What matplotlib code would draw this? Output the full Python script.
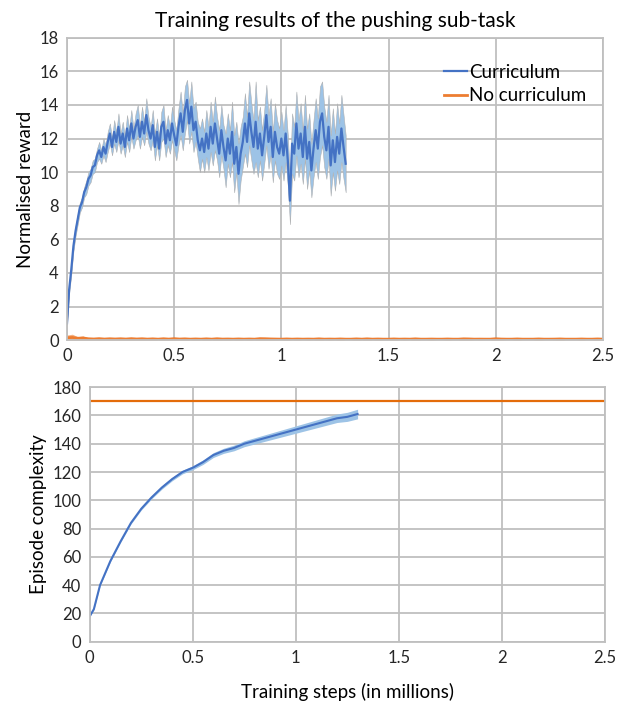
import numpy as np
import matplotlib.pyplot as plt

plt.rcParams['font.family'] = ['Lato', 'DejaVu Sans']

# Belønning, curriculum (steg på 0.01 M)
reward_steps = np.round(np.arange(0, 1.301, 0.01), 2)
reward_mean = [
    1.0, 3.0, 4.2, 5.6, 6.5, 7.2, 7.9, 8.2, 8.8, 9.1,
    9.6, 9.8, 10.3, 10.4, 11.0, 11.3, 10.9, 11.5, 11.1, 11.8,
    12.3, 11.5, 12.4, 11.8, 12.7, 11.7, 12.3, 11.5, 12.6, 11.9,
    12.9, 12.0, 12.7, 13.1, 12.1, 13.0, 12.3, 13.4, 12.5, 12.0,
    12.8, 11.5, 12.4, 11.4, 12.7, 13.0, 11.7, 12.5, 11.9, 12.9,
    12.2, 11.6, 12.7, 13.5, 12.4, 13.7, 14.3, 12.9, 13.9, 12.5,
    13.0, 11.9, 11.3, 12.0, 11.2, 12.3, 11.4, 12.7, 11.7, 12.9,
    12.0, 11.1, 12.5, 11.5, 10.7, 12.0, 11.1, 12.4, 10.5, 11.5,
    9.9, 11.1, 11.8, 12.9, 11.8, 13.5, 12.4, 11.5, 13.0, 11.4,
    12.3, 11.0, 12.1, 13.4, 11.8, 12.7, 10.9, 12.4, 11.5, 11.1,
    12.0, 11.0, 12.3, 10.7, 8.3, 11.7, 11.1, 12.9, 11.4, 12.3,
    10.9, 12.7, 10.8, 11.8, 10.1, 11.4, 12.5, 11.4, 13.0, 13.5,
    12.1, 11.3, 12.7, 10.4, 11.9, 10.6, 12.1, 11.1, 12.6, 11.5,
    10.5,
]
reward_spread = [
    0.1, 0.2, 0.3, 0.3, 0.3, 0.3, 0.3, 0.3, 0.3, 0.4,
    0.4, 0.4, 0.4, 0.4, 0.4, 0.5, 0.4, 0.5, 0.5, 0.6,
    0.6, 0.5, 0.7, 0.6, 0.8, 0.6, 0.7, 0.6, 0.8, 0.7,
    0.8, 0.6, 0.8, 0.9, 0.7, 0.9, 0.7, 1.0, 0.8, 0.7,
    0.9, 0.8, 0.8, 0.7, 0.9, 1.0, 0.8, 0.9, 0.8, 1.0,
    0.9, 0.9, 1.1, 1.3, 1.1, 1.4, 1.2, 1.2, 1.5, 1.3,
    1.2, 1.1, 1.3, 1.2, 1.2, 1.4, 1.3, 1.5, 1.3, 1.6,
    1.3, 1.4, 1.5, 1.3, 1.6, 1.5, 1.4, 1.8, 1.7, 1.5,
    1.8, 1.6, 1.5, 1.8, 1.5, 1.9, 1.7, 1.6, 2.4, 1.7,
    1.6, 1.5, 1.6, 1.8, 1.6, 1.7, 1.5, 1.7, 1.6, 1.5,
    1.6, 1.5, 1.7, 1.5, 1.4, 1.8, 1.6, 1.9, 1.7, 1.8,
    1.6, 1.9, 1.8, 1.7, 1.6, 1.7, 1.9, 1.8, 2.1, 1.9,
    1.8, 1.7, 1.9, 1.8, 1.9, 1.7, 2.0, 1.8, 2.0, 1.9,
    1.7,
]

# Belønning, uten curriculum (steg på 0.025 M)
nocur_steps = np.round(np.arange(0, 2.501, 0.025), 3)
nocur_reward = [
    0.3, 0.35, 0.2, 0.25, 0.1, 0.05, 0.12, 0.04, 0.1, 0.05,
    0.1, 0.04, 0.12, 0.05, 0.1, 0.03, 0.08, 0.02, 0.1, 0.03,
    0.12, 0.04, 0.08, 0.02, 0.06, 0.02, 0.08, 0.02, 0.1, 0.03,
    0.05, 0.02, 0.06, 0.02, 0.05, 0.02, 0.12, 0.1, 0.06, 0.04,
    0.02, 0.06, 0.02, 0.05, 0.02, 0.04, 0.02, 0.08, 0.02, 0.04,
    0.02, 0.06, 0.02, 0.02, 0.07, 0.02, 0.08, 0.02, 0.05, 0.02,
    0.02, 0.06, 0.02, 0.04, 0.02, 0.08, 0.02, 0.02, 0.04, 0.02,
    0.02, 0.05, 0.02, 0.02, 0.08, 0.06, 0.02, 0.03, 0.02, 0.02,
    0.1, 0.04, 0.02, 0.02, 0.06, 0.02, 0.02, 0.02, 0.06, 0.02,
    0.02, 0.03, 0.06, 0.02, 0.02, 0.02, 0.05, 0.02, 0.02, 0.06,
    0.02,
]

# Episodekompleksitet
cplx_steps = [0.0, 0.02, 0.05, 0.1, 0.15, 0.2, 0.25, 0.3, 0.35, 0.4,
              0.45, 0.5, 0.55, 0.6, 0.65, 0.7, 0.75, 0.8, 0.85, 0.9,
              0.95, 1.0, 1.05, 1.1, 1.15, 1.2, 1.25, 1.3]
cplx_mean = [18, 23, 40, 57, 71, 84, 94, 102, 109, 115,
             120, 123, 127, 132, 135, 137, 140, 142, 144, 146,
             148, 150, 152, 154, 156, 158, 159, 161]
cplx_spread = [0.3, 0.4, 0.5, 0.6, 0.7, 0.8, 0.9, 1.0, 1.1, 1.2,
               1.3, 1.4, 1.6, 1.7, 1.8, 2.0, 2.1, 2.2, 2.3, 2.4,
               2.5, 2.6, 2.7, 2.8, 2.9, 3.0, 3.2, 3.4]
nocur_cplx_steps = [0.0, 2.5]
nocur_cplx = [170, 170]

blue = "#4472C4"
band = "#9DC3E6"
orange = "#ED7D31"
gridc = "#BFBFBF"

fig = plt.figure(figsize=(6.32, 7.13), dpi=100)
ax1 = fig.add_axes([0.106, 0.523, 0.848, 0.424])
ax2 = fig.add_axes([0.142, 0.1, 0.815, 0.357])

rm = np.array(reward_mean)
rs = np.array(reward_spread)
ax1.fill_between(reward_steps, rm - rs, rm + rs, color=band, lw=0.4, edgecolor="#B0B0B0")
ax1.plot(reward_steps, rm, color=blue, lw=1.6, label="Curriculum")
nc = np.array(nocur_reward)
ax1.fill_between(nocur_steps, 0, nc, color="#F4B183", lw=0)
ax1.plot(nocur_steps, 0.05 + nc * 0.3, color=orange, lw=2.0, label="No curriculum")

cm = np.array(cplx_mean)
cs = np.array(cplx_spread)
ax2.fill_between(cplx_steps, cm - cs, cm + cs, color=band, lw=0)
ax2.plot(cplx_steps, cm, color=blue, lw=1.5)
ax2.plot(nocur_cplx_steps, nocur_cplx, color="#E46C0A", lw=1.6)

ax1.set_xlim(0, 2.5)
ax1.set_ylim(0, 18)
ax1.set_yticks(range(0, 19, 2))
ax2.set_xlim(0, 2.5)
ax2.set_ylim(0, 180)
ax2.set_yticks(range(0, 181, 20))

for ax in (ax1, ax2):
    ax.set_xticks([0, 0.5, 1, 1.5, 2, 2.5])
    ax.set_xticklabels(["0", "0.5", "1", "1.5", "2", "2.5"])
    ax.grid(True, color=gridc, lw=1.3)
    ax.set_axisbelow(True)
    ax.tick_params(length=0, labelsize=12, pad=6, colors="#262626")
    for s in ax.spines.values():
        s.set_color(gridc)
        s.set_linewidth(1.3)

ax1.set_title("Training results of the pushing sub-task", fontsize=15, pad=8)
ax1.set_ylabel("Normalised reward", fontsize=13.5, labelpad=4)
ax2.set_ylabel("Episode complexity", fontsize=13.5, labelpad=4)
ax2.set_xlabel("Training steps (in millions)", fontsize=13.5, labelpad=12)

ax1.legend(loc="upper right", bbox_to_anchor=(1.0, 0.97), frameon=False,
           fontsize=13.5, handlelength=1.2, handletextpad=0.1, labelspacing=0.35)

plt.savefig("out.png", dpi=100)
